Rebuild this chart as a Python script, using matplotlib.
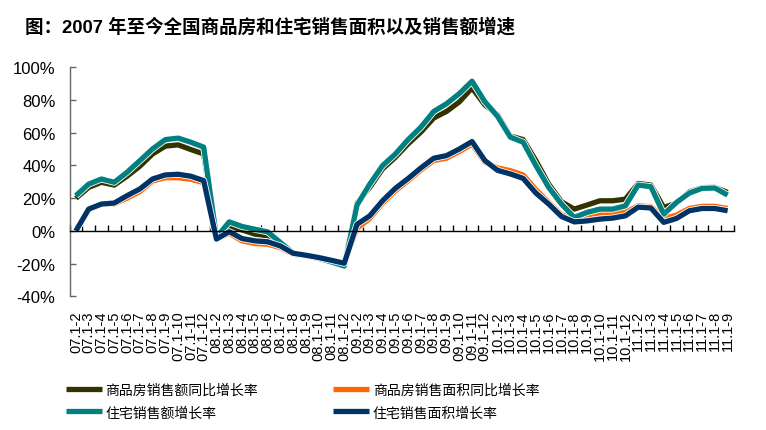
import matplotlib
matplotlib.use("Agg")
import matplotlib.pyplot as plt
import matplotlib.patheffects as pe
import numpy as np

labels = [
    "07.1-2", "07.1-3", "07.1-4", "07.1-5", "07.1-6", "07.1-7", "07.1-8", "07.1-9", "07.1-10", "07.1-11", "07.1-12",
    "08.1-2", "08.1-3", "08.1-4", "08.1-5", "08.1-6", "08.1-7", "08.1-8", "08.1-9", "08.1-10", "08.1-11", "08.1-12",
    "09.1-2", "09.1-3", "09.1-4", "09.1-5", "09.1-6", "09.1-7", "09.1-8", "09.1-9", "09.1-10", "09.1-11", "09.1-12",
    "10.1-2", "10.1-3", "10.1-4", "10.1-5", "10.1-6", "10.1-7", "10.1-8", "10.1-9", "10.1-10", "10.1-11", "10.1-12",
    "11.1-2", "11.1-3", "11.1-4", "11.1-5", "11.1-6", "11.1-7", "11.1-8", "11.1-9",
]

comm_sales_amount = [
    19.9, 26.6, 29.7, 28.0, 33.4, 39.5, 47.0, 51.8, 52.6, 49.7, 47.0,
    -4.0, 3.0, 0.6, -2.0, -3.0, -8.2, -13.7, -15.0, -16.3, -18.0, -20.5,
    17.0, 26.6, 37.9, 45.0, 53.2, 60.4, 69.0, 73.0, 78.8, 87.4, 77.0,
    71.0, 58.0, 55.8, 42.9, 28.6, 17.8, 13.3, 15.8, 18.4, 18.4, 19.4,
    29.0, 28.0, 14.3, 17.0, 23.9, 26.4, 26.6, 23.5,
]
comm_sales_area = [
    0.0, 13.0, 16.4, 16.5, 20.0, 24.0, 30.5, 32.5, 32.5, 31.5, 29.5,
    -5.0, -1.5, -6.1, -7.7, -8.2, -10.2, -14.2, -15.3, -16.5, -18.0, -19.5,
    1.5, 7.6, 17.0, 24.5, 30.7, 37.2, 43.0, 44.4, 48.5, 53.0, 42.0,
    38.5, 36.8, 34.2, 25.2, 17.4, 9.8, 7.6, 9.6, 11.0, 10.8, 11.3,
    15.3, 14.8, 7.6, 9.6, 13.7, 15.0, 15.0, 13.7,
]
res_sales_amount = [
    21.5, 28.6, 31.7, 29.7, 35.8, 42.9, 50.1, 55.8, 56.7, 54.2, 51.2,
    -4.0, 5.5, 2.7, 1.0, -0.6, -7.1, -13.5, -15.0, -16.8, -19.0, -21.5,
    15.8, 28.6, 39.9, 47.0, 55.8, 63.4, 73.0, 77.7, 83.9, 91.5, 79.0,
    70.0, 57.3, 54.2, 39.9, 26.6, 16.4, 8.2, 11.3, 13.3, 13.3, 15.3,
    28.0, 27.0, 10.2, 17.4, 23.1, 26.0, 26.2, 21.9,
]
res_sales_area = [
    0.0, 13.3, 16.4, 17.0, 21.5, 25.6, 31.7, 34.2, 34.6, 33.4, 30.7,
    -5.0, -0.5, -4.7, -6.1, -6.7, -9.2, -13.7, -14.9, -16.3, -18.0, -19.8,
    4.0, 9.2, 18.4, 26.0, 32.0, 38.5, 44.4, 46.0, 50.0, 54.6, 43.0,
    37.0, 34.8, 32.1, 23.1, 16.4, 8.8, 5.5, 6.1, 7.2, 7.8, 9.2,
    14.5, 14.0, 5.2, 7.6, 12.3, 13.7, 13.7, 12.3,
]

series_names = ["商品房销售额同比增长率", "商品房销售面积同比增长率", "住宅销售额增长率", "住宅销售面积增长率"]
series_colors = ["#333300", "#FF6600", "#008080", "#003366"]
series_data = [comm_sales_amount, comm_sales_area, res_sales_amount, res_sales_area]

yticks = [-40, -20, 0, 20, 40, 60, 80, 100]
ytick_labels = ["-40%", "-20%", "0%", "20%", "40%", "60%", "80%", "100%"]

fig = plt.figure(figsize=(7.66, 4.31), dpi=100)
ax = fig.add_axes([69.5 / 766, 1 - 297.3 / 431, (734 - 69.5) / 766, (297.3 - 68.3) / 431])

x = np.arange(len(labels))
lw = 3.8
lines = {}
for name, col, d in zip(series_names, series_colors, series_data):
    ln, = ax.plot(x, d, color=col, lw=lw, solid_capstyle="butt", solid_joinstyle="round",
                  label=name,
                  path_effects=[pe.Stroke(linewidth=lw + 1.2, foreground="white"), pe.Normal()])
    lines[name] = ln

ax.set_xlim(-0.5, len(labels) - 0.5)
ax.set_ylim(-40, 100)

for s in ["top", "right"]:
    ax.spines[s].set_visible(False)
ax.spines["left"].set_color("#666666")
ax.spines["left"].set_linewidth(1.0)
ax.spines["bottom"].set_position(("data", 0))
ax.spines["bottom"].set_color("black")
ax.spines["bottom"].set_linewidth(1.0)

ax.set_yticks(yticks)
ax.set_yticklabels(ytick_labels, fontsize=12, family="Liberation Sans")
ax.tick_params(axis="y", direction="in", length=4, width=1, color="#666666", pad=10)

ax.set_xticks(x)
ax.set_xticklabels([])
ax.tick_params(axis="x", which="major", length=0)
ax.set_xticks(np.arange(-0.5, len(labels)), minor=True)
ax.tick_params(axis="x", which="minor", direction="in", length=4, width=1, color="black")

sec = ax.secondary_xaxis("bottom")
sec.spines["bottom"].set_visible(False)
sec.set_xticks(x)
sec.set_xticklabels(labels, rotation=90, fontsize=10.5, family="Liberation Sans", va="top")
sec.tick_params(axis="x", length=0, pad=10)

order = [series_names[0], series_names[2], series_names[1], series_names[3]]
fig.legend([lines[n] for n in order], order, loc="upper left",
           bbox_to_anchor=(66 / 766, 1 - 384 / 431), ncol=2, frameon=False,
           prop={"family": ["Noto Sans CJK SC", "DejaVu Sans"], "size": 10},
           handlelength=2.6, handletextpad=0.25, columnspacing=5.4,
           labelspacing=0.6, borderpad=0, borderaxespad=0)

fig.text(25 / 766, 1 - 27.5 / 431, "图：2007 年至今全国商品房和住宅销售面积以及销售额增速",
         fontsize=13.3, fontweight="bold", family=["Liberation Sans", "Noto Sans CJK SC"],
         va="center", ha="left")

fig.savefig("out.png", dpi=100)
